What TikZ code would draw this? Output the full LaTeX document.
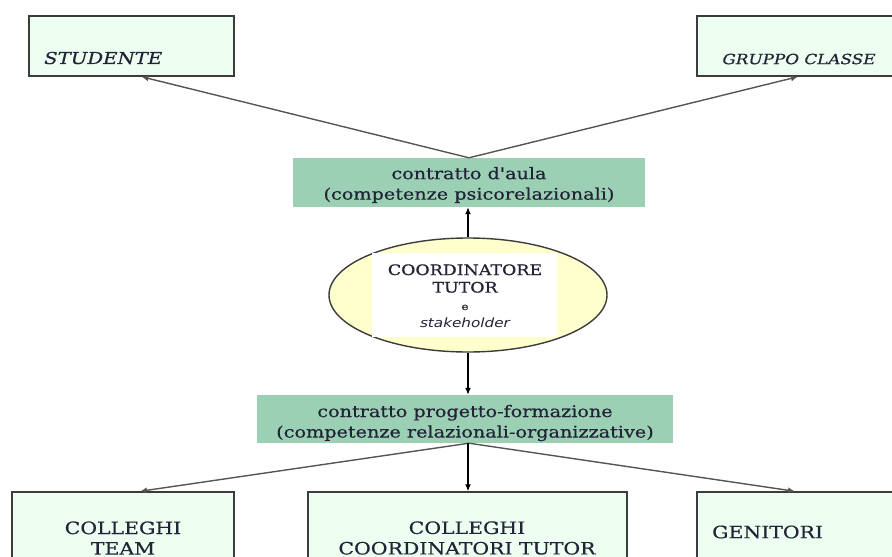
\documentclass[tikz,border=0pt]{standalone}
\usepackage{fontspec}
\setmainfont{DejaVu Serif}
\newfontfamily\widefont[FakeStretch=1.2,FakeBold=0.6]{DejaVu Serif}
\newfontfamily\sansit[FakeStretch=1.2]{DejaVu Sans}
\usetikzlibrary{arrows.meta,shapes.geometric}
\definecolor{boxfill}{RGB}{236,255,240}
\definecolor{contractfill}{RGB}{155,208,180}
\definecolor{ovalfill}{RGB}{255,255,206}
\definecolor{edgegray}{RGB}{60,60,60}
\definecolor{linkgray}{RGB}{85,85,85}
\definecolor{inkcol}{RGB}{35,35,55}
\tikzset{
  actor/.style={draw=edgegray, line width=1.4pt, fill=boxfill, inner sep=0pt},
  contract/.style={fill=contractfill, inner sep=0pt},
  label text/.style={inner sep=0pt, text=inkcol},
  contract text/.style={label text, align=center, font=\widefont\fontsize{16}{20.5}\selectfont},
  actor text/.style={label text, align=center, font=\widefont\fontsize{17}{20.5}\selectfont},
  link/.style={draw=linkgray, line width=1.4pt, -{Latex[length=7pt,width=6pt]}},
  vlink/.style={draw=black, line width=1.3pt, -{Latex[length=7pt,width=6pt]}}
}
\begin{document}
\begin{tikzpicture}[x=1pt, y=-1pt]
\useasboundingbox (0,0) rectangle (892,557);
\clip (0,0) rectangle (892,557);

% upper partners
\node[actor, minimum width=205, minimum height=60] (studente) at (131.5,46) {};
\node[label text, anchor=west, font=\widefont\itshape\fontsize{16.4}{16}\selectfont] (studentetxt) at (44,58) {STUDENTE};
\node[actor, minimum width=202, minimum height=60] (gruppo) at (798,46) {};
\node[label text, font=\widefont\itshape\fontsize{14}{14}\selectfont] (gruppotxt) at (799,59) {GRUPPO CLASSE};

% classroom contract
\node[contract, minimum width=352, minimum height=49] (aula) at (469,182.5) {};
\node[contract text] (aulatxt) at (469,185) {contratto d'aula\\(competenze psicorelazionali)};

% central actor
\node[ellipse, draw=edgegray, line width=1.4pt, fill=ovalfill,
      minimum width=278, minimum height=114, inner sep=0pt] (coord) at (468,295) {};
\node[fill=white, minimum width=185, minimum height=84, inner sep=0pt] (coordbox) at (464.5,295) {};
\node[label text, align=center, font=\widefont\fontsize{14.5}{17.5}\selectfont] (coordtxt) at (465,296)
  {COORDINATORE\\TUTOR\\{\fontsize{10}{10}\selectfont e}\\{\sansit\itshape\fontsize{12.7}{12}\selectfont stakeholder}};

% project contract
\node[contract, minimum width=416, minimum height=48] (progetto) at (465,419) {};
\node[contract text] (progettotxt) at (465,423) {contratto progetto-formazione\\(competenze relazionali-organizzative)};

% lower partners
\node[actor, minimum width=222, minimum height=110] (team) at (123,547) {};
\node[actor text] (teamtxt) at (123,538) {COLLEGHI\\TEAM};
\node[actor, minimum width=319, minimum height=110] (colltutor) at (467.5,547) {};
\node[actor text] (colltutortxt) at (467,538) {COLLEGHI\\COORDINATORI TUTOR};
\node[actor, minimum width=202, minimum height=110] (genitori) at (798,547) {};
\node[label text, anchor=west, font=\widefont\fontsize{17}{17}\selectfont] (genitoritxt) at (712,532) {GENITORI};

% connectors
\draw[link] (aula.north) -- ([xshift=10]studente.south);
\draw[link] (aula.north) -- (gruppo.south);
\draw[vlink] (coord.north) -- (coord.north |- aula.south);
\draw[vlink] (coord.south) -- (coord.south |- progetto.north);
\draw[link] ([xshift=4]progetto.south) -- ([xshift=17]team.north);
\draw[vlink] ([xshift=3]progetto.south) -- ([xshift=3]progetto.south |- colltutor.north);
\draw[link] ([xshift=4]progetto.south) -- ([xshift=-3]genitori.north);
\end{tikzpicture}
\end{document}
